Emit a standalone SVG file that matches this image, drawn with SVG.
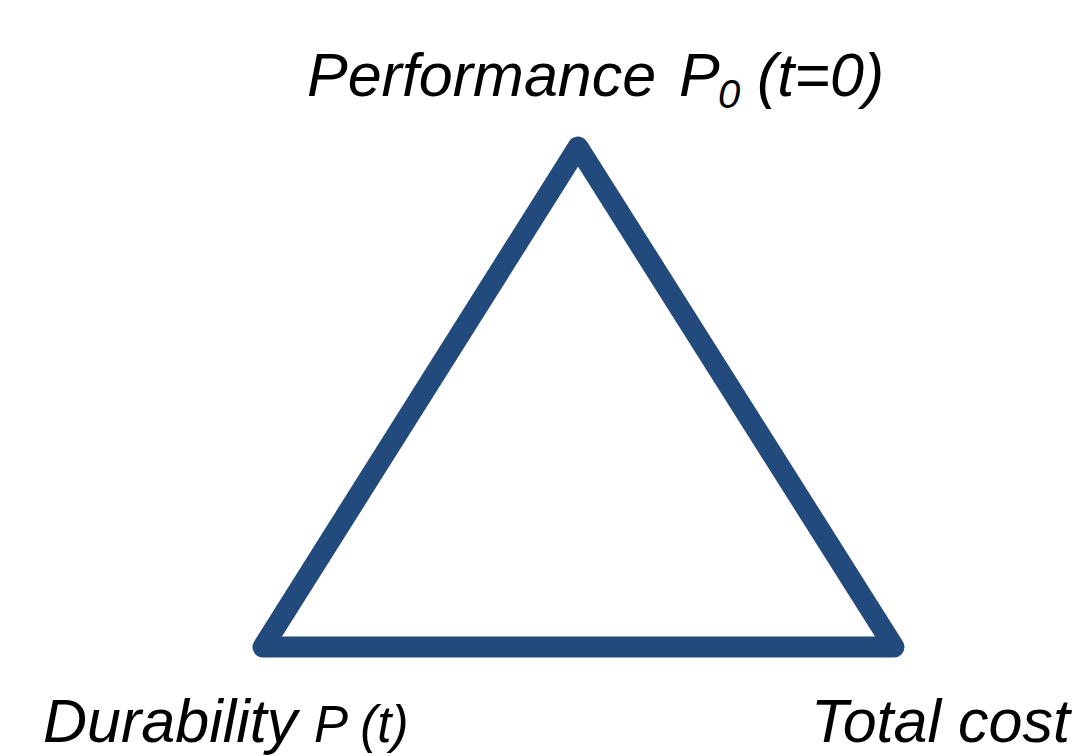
<svg xmlns="http://www.w3.org/2000/svg" width="1075" height="756" viewBox="0 0 1075 756">
<style>
.lbl{font-family:"Liberation Sans",Arial,sans-serif;font-style:italic;fill:#000;font-size:61px}
.tri{fill:none;stroke:#234a7c;stroke-width:21;stroke-linejoin:round}
</style>
<rect width="1075" height="756" fill="#fff"/>
<g id="connectors">
<polygon class="tri" points="578,147 263,647 894,647"/>
</g>
<g id="node-performance">
<text class="lbl" x="307" y="96">Performance<tspan x="679">P</tspan><tspan font-size="40" dy="12" x="718">0</tspan><tspan dy="-12" x="757">(t=0)</tspan></text>
</g>
<g id="node-durability">
<text class="lbl" x="43" y="742">Durability<tspan font-size="51" x="314">P (t)</tspan></text>
</g>
<g id="node-cost">
<text class="lbl" x="811" y="742">Total cost</text>
</g>
</svg>
